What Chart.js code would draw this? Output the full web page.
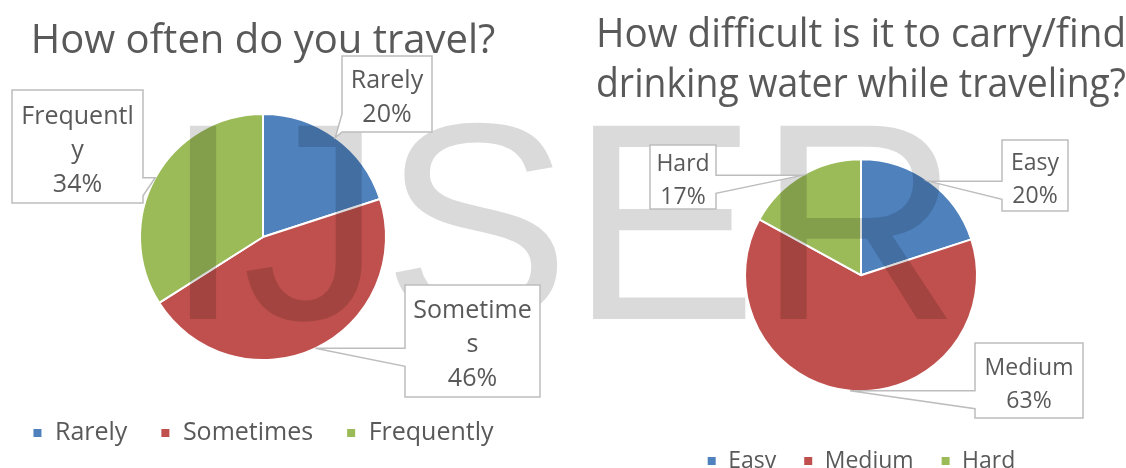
<!DOCTYPE html>
<html>
<head>
<meta charset="utf-8">
<script src="https://cdn.jsdelivr.net/npm/chart.js@4.4.1/dist/chart.umd.min.js"></script>
<style>
  html, body { margin: 0; padding: 0; background: #fff; }
  #page { position: relative; width: 1126px; height: 468px; overflow: hidden; }
  canvas { position: absolute; top: 0; }
  #travelChart { left: -20px; }
  #waterChart { left: 563px; }
</style>
</head>
<body>
<div id="page">
  <canvas id="travelChart" width="583" height="468"></canvas>
  <canvas id="waterChart" width="563" height="490"></canvas>
</div>
<script>
// data
const travelLabels = ['Rarely', 'Sometimes', 'Frequently'];
const travelValues = [20, 46, 34];
const waterLabels = ['Easy', 'Medium', 'Hard'];
const waterValues = [20, 63, 17];
const sliceColors = ['#4F81BD', '#C0504D', '#9BBB59'];

const FONT = '"Open Sans", "Liberation Sans", sans-serif';
const TEXT = '#595959';

// callout boxes, page coordinates (x, y, w, h)
const travelBoxes = [
    { x: 342, y: 56, w: 90, h: 76 },
    { x: 405, y: 285, w: 135, h: 112 },
    { x: 12, y: 90, w: 131, h: 113 }
];
const waterBoxes = [
    { x: 1002, y: 140, w: 66, h: 71 },
    { x: 975, y: 343, w: 108, h: 75 },
    { x: 650, y: 145, w: 66, h: 64 }
];

// big grey mark across both charts
const watermarkPlugin = {
    id: 'watermark',
    afterDatasetsDraw(chart, args, opts) {
        const ctx = chart.ctx;
        ctx.save();
        ctx.font = '281px "Liberation Sans", Arial, sans-serif';
        ctx.fillStyle = 'rgba(0, 0, 0, 0.145)';
        ctx.textBaseline = 'alphabetic';
        ctx.textAlign = 'left';
        ctx.fillText('IJSER', 164 - opts.offsetX, 319);
        ctx.restore();
    }
};

function wrapChars(ctx, text, maxW) {
    const lines = [];
    let line = '';
    for (const ch of text) {
        if (line && ctx.measureText(line + ch).width > maxW) {
            lines.push(line);
            line = ch;
        } else {
            line += ch;
        }
    }
    if (line) lines.push(line);
    return lines;
}

// boxed data labels with a wedge pointing at the slice
const calloutPlugin = {
    id: 'callouts',
    afterDraw(chart, args, opts) {
        const ctx = chart.ctx;
        const meta = chart.getDatasetMeta(0);
        const labels = chart.data.labels;
        const values = chart.data.datasets[0].data;
        ctx.save();
        ctx.font = opts.fontSize + 'px ' + FONT;
        meta.data.forEach((arc, i) => {
            const b = opts.boxes[i];
            const L = b.x - opts.offsetX, T = b.y, R = L + b.w, B = T + b.h;
            const p = arc.getProps(['x', 'y', 'startAngle', 'endAngle', 'outerRadius'], true);
            const mid = (p.startAngle + p.endAngle) / 2;
            const tip = { x: p.x + Math.cos(mid) * p.outerRadius, y: p.y + Math.sin(mid) * p.outerRadius };

            let side;
            if (tip.x < L) side = 'left';
            else if (tip.x > R) side = 'right';
            else if (tip.y > B) side = 'bottom';
            else side = 'top';

            let c, c2;
            if (side === 'left' || side === 'right') {
                c = Math.min(Math.max(tip.y, T), B);
                c2 = c + 18 <= B ? c + 18 : c - 18;
            } else {
                c = Math.min(Math.max(tip.x, L), R);
                c2 = c + 18 <= R ? c + 18 : c - 18;
            }
            const lo = Math.min(c, c2), hi = Math.max(c, c2);

            const pts = [[L, T]];
            if (side === 'top') pts.push([lo, T], [tip.x, tip.y], [hi, T]);
            pts.push([R, T]);
            if (side === 'right') pts.push([R, lo], [tip.x, tip.y], [R, hi]);
            pts.push([R, B]);
            if (side === 'bottom') pts.push([hi, B], [tip.x, tip.y], [lo, B]);
            pts.push([L, B]);
            if (side === 'left') pts.push([L, hi], [tip.x, tip.y], [L, lo]);

            ctx.beginPath();
            pts.forEach((pt, k) => k ? ctx.lineTo(pt[0], pt[1]) : ctx.moveTo(pt[0], pt[1]));
            ctx.closePath();
            ctx.fillStyle = '#fff';
            ctx.fill();
            ctx.strokeStyle = '#bdbdbd';
            ctx.lineWidth = 1.5;
            ctx.stroke();

            const lines = wrapChars(ctx, labels[i], b.w - 8);
            lines.push(values[i] + '%');
            ctx.fillStyle = TEXT;
            ctx.textAlign = 'center';
            ctx.textBaseline = 'middle';
            const cx = (L + R) / 2;
            const y0 = (T + B) / 2 + 4 - (lines.length - 1) * opts.lineHeight / 2;
            lines.forEach((ln, k) => ctx.fillText(ln, cx, y0 + k * opts.lineHeight));
        });
        ctx.restore();
    }
};

function makePie(id, labels, values, cfg) {
    const ctx = document.getElementById(id).getContext('2d');
    return new Chart(ctx, {
        type: 'pie',
        data: {
            labels: labels,
            datasets: [{
                data: values,
                backgroundColor: sliceColors,
                borderColor: '#ffffff',
                borderWidth: 2,
                radius: cfg.radius
            }]
        },
        options: {
            responsive: false,
            animation: false,
            layout: { padding: cfg.padding },
            plugins: {
                title: {
                    display: true,
                    text: cfg.title,
                    color: TEXT,
                    font: { family: FONT, size: cfg.titleSize, weight: 'normal', lineHeight: cfg.titleLineHeight },
                    padding: cfg.titlePadding
                },
                legend: {
                    position: 'bottom',
                    labels: {
                        color: TEXT,
                        font: { family: FONT, size: cfg.legendSize },
                        boxWidth: 10,
                        boxHeight: 10,
                        padding: cfg.legendGap
                    }
                },
                tooltip: { enabled: false },
                watermark: { offsetX: cfg.offsetX },
                callouts: { boxes: cfg.boxes, offsetX: cfg.offsetX, fontSize: cfg.legendSize, lineHeight: cfg.lineHeight }
            }
        },
        plugins: [watermarkPlugin, calloutPlugin]
    });
}

makePie('travelChart', travelLabels, travelValues, {
    title: 'How often do you travel?',
    titleSize: 40,
    titleLineHeight: 1.2,
    titlePadding: { top: 18, bottom: 20.5 },
    padding: { left: 0, right: 17, top: 0, bottom: 12.5 },
    legendSize: 25,
    legendGap: 33,
    radius: 123,
    offsetX: -20,
    boxes: travelBoxes,
    lineHeight: 34
});

makePie('waterChart', waterLabels, waterValues, {
    title: ['How difficult is it to carry/find', 'drinking water while traveling?'],
    titleSize: 39.5,
    titleLineHeight: 1.265,
    titlePadding: { top: 11, bottom: 17 },
    padding: { left: 33, right: 0, top: 0, bottom: 7.5 },
    legendSize: 23,
    legendGap: 27,
    radius: 116,
    offsetX: 563,
    boxes: waterBoxes,
    lineHeight: 33
});
</script>
</body>
</html>
